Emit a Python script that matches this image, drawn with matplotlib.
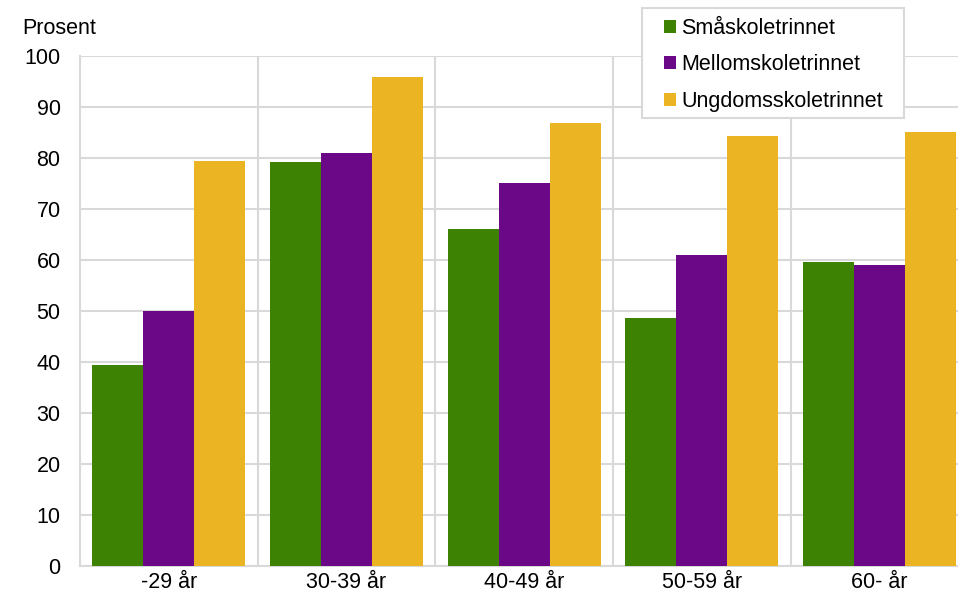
import matplotlib.pyplot as plt
from matplotlib.patches import Rectangle
from matplotlib.ticker import MultipleLocator
import numpy as np

plt.rcParams['font.family'] = ['Liberation Sans', 'DejaVu Sans']

categories = ['-29 år', '30-39 år', '40-49 år', '50-59 år', '60- år']
series = ['Småskoletrinnet', 'Mellomskoletrinnet', 'Ungdomsskoletrinnet']
smaa = [39.4, 79.2, 66.1, 48.6, 59.6]
mellom = [50.0, 81.0, 75.1, 61.0, 59.0]
ungdom = [79.4, 95.9, 86.9, 84.3, 85.1]
colors = ['#3e8203', '#6a0888', '#eab422']

fig = plt.figure(figsize=(9.58, 5.93), dpi=100)
ax = fig.add_axes([80 / 958, 27 / 593, 888.5 / 958, 510 / 593])

x = np.arange(len(categories))
w = 0.287
for i, (vals, name) in enumerate(zip([smaa, mellom, ungdom], series)):
    ax.bar(x + (i - 1) * w, vals, width=w, color=colors[i], label=name, zorder=3)

ax.set_xlim(-0.5, len(categories) - 0.5)
ax.set_ylim(0, 100)
ax.yaxis.set_major_locator(MultipleLocator(10))
ax.set_xticks(x)
ax.set_xticklabels(categories)
ax.set_xticks(x[:-1] + 0.5, minor=True)

grid_col = '#d9d9d9'
ax.grid(axis='y', which='major', color=grid_col, linewidth=1.5, zorder=0)
ax.grid(axis='x', which='minor', color=grid_col, linewidth=1.5, zorder=0)
ax.tick_params(which='both', length=0, labelsize=15.5, colors='black')
ax.tick_params(axis='y', pad=14)
ax.tick_params(axis='x', pad=4)
for side in ['top', 'right']:
    ax.spines[side].set_visible(False)
for side in ['left', 'bottom']:
    ax.spines[side].set_color(grid_col)
    ax.spines[side].set_linewidth(1.5)

fig.text(22 / 958, 1 - 18 / 593, 'Prosent', fontsize=15.5, va='top', ha='left')

# legend box drawn by hand so the side padding matches
ax.add_patch(Rectangle((642 / 958, 1 - 118 / 593), 262 / 958, 110 / 593,
                       transform=fig.transFigure, facecolor='white',
                       edgecolor=grid_col, linewidth=1.5, zorder=5,
                       clip_on=False))
leg = ax.legend(loc='upper left', bbox_to_anchor=(664 / 958, 1 - 18 / 593),
                bbox_transform=fig.transFigure, fontsize=15.5, frameon=False,
                handlelength=0.55, handleheight=0.55,
                handletextpad=0.25, labelspacing=0.72, borderpad=0,
                borderaxespad=0)
leg.set_zorder(6)

fig.savefig('out.png', dpi=100)
